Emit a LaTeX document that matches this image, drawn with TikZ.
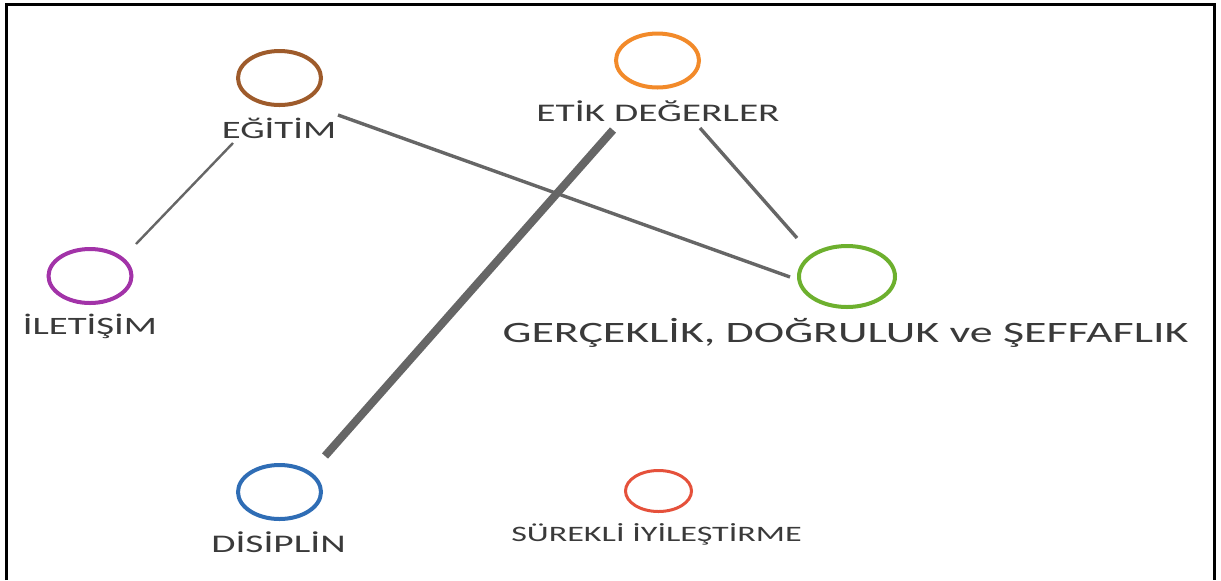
\documentclass[tikz,border=0pt]{standalone}
\usepackage{fontspec}
\setmainfont[FakeStretch=1.55]{Carlito}
\usetikzlibrary{shapes.geometric}
\definecolor{txt}{HTML}{3A3A3A}
\definecolor{ln}{HTML}{666666}
\definecolor{cbrown}{HTML}{9E5B2B}
\definecolor{corange}{HTML}{F28A2A}
\definecolor{cpurple}{HTML}{A233A8}
\definecolor{cgreen}{HTML}{6DB02E}
\definecolor{cblue}{HTML}{2F6DB5}
\definecolor{cred}{HTML}{E5513B}
\tikzset{
  ring/.style={ellipse, draw=#1, line width=2pt, inner sep=0pt, minimum width=41.5pt, minimum height=27pt},
  lbl/.style={text=txt, inner sep=0pt, font=\fontsize{12.5}{14}\selectfont},
  conn/.style={draw=ln, line width=1.7pt},
}
\begin{document}
\begin{tikzpicture}[x=0.5pt,y=-0.5pt]
\useasboundingbox (0,0) rectangle (1221,580);
\draw[line width=1.5pt, black] (6,580) -- (6,4) -- (1214.5,4) -- (1214.5,580);

\node[ring=cbrown]  (egc) at (279.5,78) {};
\node[ring=corange] (etc) at (657.5,60.5) {};
\node[ring=cpurple] (ilc) at (90,276) {};
\node[ring=cgreen, minimum width=48pt, minimum height=30.5pt] (gec) at (847,276.5) {};
\node[ring=cblue]   (dic) at (279.5,492) {};
\node[ring=cred, line width=1.5pt, minimum width=33pt, minimum height=20.5pt] (suc) at (658.5,491) {};

\node[lbl] (egl) at (279,128) {EĞİTİM};
\node[lbl, font=\fontsize{12.7}{14}\selectfont] (etl) at (658,111.5) {ETİK DEĞERLER};
\node[lbl] (ill) at (90,326.5) {İLETİŞİM};
\node[lbl, font=\fontsize{14.8}{17}\selectfont] (gel) at (845.5,333) {GERÇEKLİK, DOĞRULUK ve ŞEFFAFLIK};
\node[lbl, font=\fontsize{12.7}{14}\selectfont] (dil) at (278.5,542) {DİSİPLİN};
\node[lbl, font=\fontsize{11}{13}\selectfont] (sul) at (656.5,534) {SÜREKLİ İYİLEŞTİRME};

\coordinate (a1) at (233,143);
\coordinate (a2) at (136,244);
\coordinate (b1) at (338,115);
\coordinate (b2) at (790,277);
\coordinate (c1) at (700,128);
\coordinate (c2) at (797,238);
\coordinate (d1) at (613,130);
\coordinate (d2) at (325,456);

\draw[conn, line width=1.2pt] (a1) -- (a2);
\draw[conn] (b1) -- (b2);
\draw[conn] (c1) -- (c2);
\draw[conn, line width=4pt] (d1) -- (d2);
\end{tikzpicture}
\end{document}
